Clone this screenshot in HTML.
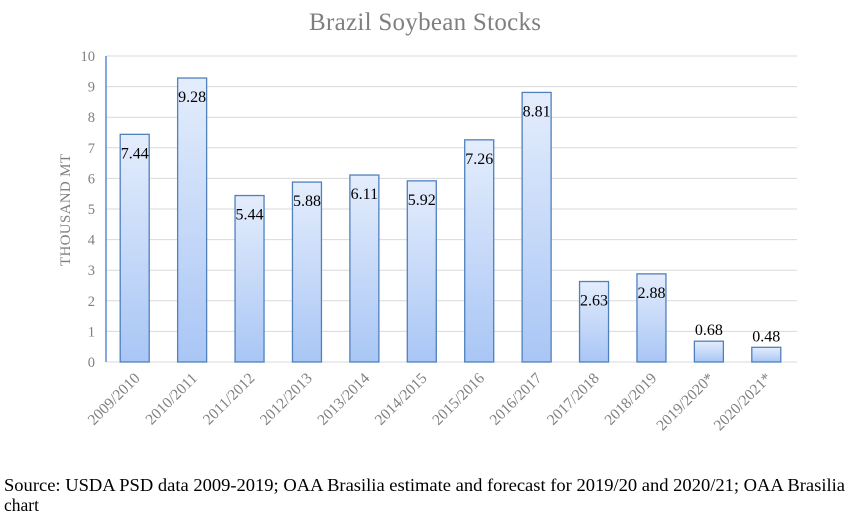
<!DOCTYPE html>
<html><head><meta charset="utf-8"><style>
body{margin:0;background:#fff;width:848px;height:519px;overflow:hidden;font-family:"Liberation Serif",serif}
</style></head><body>
<svg id="c" width="848" height="519" xmlns="http://www.w3.org/2000/svg">
<defs><linearGradient id="g" x1="0" y1="0" x2="0" y2="1"><stop offset="0" stop-color="#e4edfc"/><stop offset="1" stop-color="#a9c6f5"/></linearGradient></defs>
<text x="425" y="30" text-anchor="middle" font-size="25" textLength="232" fill="#7f7f7f">Brazil Soybean Stocks</text>
<text transform="translate(70,210) rotate(-90)" text-anchor="middle" font-size="15" textLength="112" fill="#7f7f7f">THOUSAND MT</text>
<g id="grid"></g><g id="bars"></g><g id="xl"></g>
<text x="4" y="491" font-size="17.5" textLength="841" lengthAdjust="spacingAndGlyphs" fill="#000">Source: USDA PSD data 2009-2019; OAA Brasilia estimate and forecast for 2019/20 and 2020/21; OAA Brasilia</text>
<text x="4" y="511" font-size="17.5" fill="#000">chart</text>
</svg>
<script>
const categories=["2009/2010","2010/2011","2011/2012","2012/2013","2013/2014","2014/2015","2015/2016","2016/2017","2017/2018","2018/2019","2019/2020*","2020/2021*"];
const values=[7.44,9.28,5.44,5.88,6.11,5.92,7.26,8.81,2.63,2.88,0.68,0.48];
const labels=["7.44","9.28","5.44","5.88","6.11","5.92","7.26","8.81","2.63","2.88","0.68","0.48"];
const ticks=[0,1,2,3,4,5,6,7,8,9,10];
const NS="http://www.w3.org/2000/svg";
const L=106,R=795,Y0=362,Y10=56;
const y=v=>Y0-(Y0-Y10)*v/10;
const step=(R-L)/categories.length;
const x=i=>L+step*(i+0.5);
function mk(t,a,p){const e=document.createElementNS(NS,t);for(const k in a)e.setAttribute(k,a[k]);p.appendChild(e);return e;}
const grid=document.getElementById('grid'),bars=document.getElementById('bars'),xl=document.getElementById('xl');
ticks.forEach(t=>{
 const ln=mk('line',{x1:L,x2:R+2,y1:y(t),y2:y(t),stroke:'#d9d9d9','stroke-width':1},grid);
 
 
 const tx=mk('text',{x:L-11,y:y(t)+5,'text-anchor':'end','font-size':14.5,fill:'#7f7f7f'},grid);
 tx.textContent=t;
 
 
});
const ax=mk('line',{x1:L,x2:L,y1:Y10,y2:Y0,stroke:'#5b8bd0','stroke-width':1.5},grid);


values.forEach((v,i)=>{
 const w=29,cx=x(i);
 const r=mk('rect',{x:cx-w/2,y:y(v),width:w,height:Y0-y(v),fill:'url(#g)',stroke:'#4f81bd','stroke-width':1.3},bars);
 
 
 const ly=v<1?y(v)-6:y(v)+24;
 const t=mk('text',{x:cx,y:ly,'text-anchor':'middle','font-size':16,fill:'#000'},bars);
 t.textContent=labels[i];
 
 
 const c=mk('text',{transform:`translate(${cx+6},${Y0+17}) rotate(-45)`,'text-anchor':'end','font-size':15.5,fill:'#7f7f7f'},xl);
 c.textContent=categories[i];
 
 
});
</script>
</body></html>
